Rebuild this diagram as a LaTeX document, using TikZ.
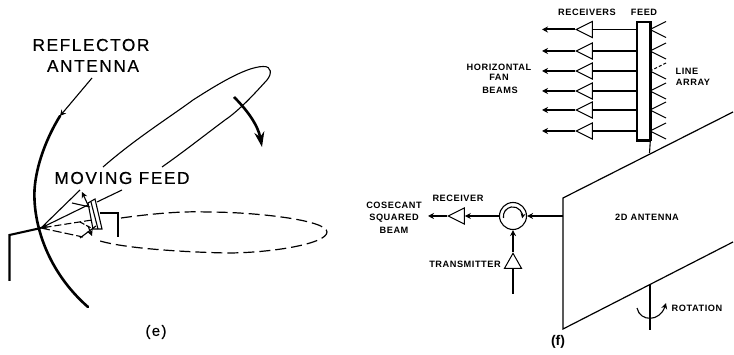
\documentclass[tikz,border=0pt]{standalone}
\usepackage{fontspec}
\setmainfont{Liberation Sans}
\newfontfamily\bigf[LetterSpace=9,FakeBold=0.35]{Liberation Sans}
\newfontfamily\smallf[LetterSpace=6]{Liberation Sans Bold}
\usetikzlibrary{arrows.meta,shapes.geometric}
\tikzset{
  bigtext/.style={font=\bigf\fontsize{17.3}{20}\selectfont,inner sep=0pt},
  smalltext/.style={font=\smallf\fontsize{9.2}{11}\selectfont,inner sep=0pt},
  thin line/.style={line width=1.1pt},
  mid line/.style={line width=1.6pt},
  heavy/.style={line width=2.6pt},
  tip/.style={-{Stealth[length=6pt,width=6pt]}},
  bigtip/.style={-{Stealth[length=15pt,width=10pt]}},
  amp/.style={draw,line width=1pt,isosceles triangle,isosceles triangle stretches=true,
    minimum width=16pt,minimum height=16pt,inner sep=0pt},
}
\begin{document}
\begin{tikzpicture}[x=1pt,y=-1pt,line join=miter]
\useasboundingbox (0,0) rectangle (734,355);
% ---------- (e) reflector
\coordinate (rtop) at (60,116);
\coordinate (rbot) at (88,307);
\coordinate (focus) at (41,228);
\draw[heavy,line cap=round] (rtop) .. controls (47,137) and (36,165) .. (34.5,190)
   .. controls (33,225) and (48,272) .. (rbot);
\node[bigtext] (refl) at (91,45) {REFLECTOR};
\node[bigtext] (ant) at (93,66) {ANTENNA};
\coordinate (antleader) at (92,78);
\draw[thin line,tip] (antleader) -- (rtop);
% upper beam
\coordinate (ub1) at (103,167);
\coordinate (ub2) at (162,167);
\draw[thin line] (ub1) .. controls (135,139) and (170,117) .. (193,100)
  .. controls (215,86) and (245,67) .. (263,66.5)
  .. controls (272,66) and (272,74) .. (267,80)
  .. controls (256,92) and (240,110) .. (225,120)
  .. controls (205,135) and (182,153) .. (ub2);
% scan arrow
\coordinate (sa1) at (234,97);
\coordinate (sa2) at (262,147);
\draw[heavy,bigtip] (sa1) .. controls (247,110) and (258,125) .. (sa2);
\node[bigtext] (mf) at (122,178) {MOVING FEED};
% feed
\coordinate (fa) at (88,203);
\coordinate (fb) at (95,199);
\coordinate (fc) at (102,229);
\coordinate (fd) at (93,229);
\draw[thin line,fill=white] (fa) -- (fb) -- (fc) -- (fd) -- cycle;
\draw[thin line] (91,202) -- (98,229);
\coordinate (fl) at (122,190);
\coordinate (flb) at (97,202);
\draw[thin line] (fl) -- (flb);
% feed pipe
\coordinate (p1) at (100,213);
\coordinate (p2) at (118,213);
\coordinate (p3) at (118,237);
\draw[line width=2.1pt] (p1) -- (p2) -- (p3);
% main pipe
\coordinate (q1) at (9.5,235);
\coordinate (q2) at (9.5,281);
\draw[line width=2.1pt] (focus) -- (q1) -- (q2);
% rays
\coordinate (ray1) at (80,190);
\coordinate (ray2) at (88,205);
\coordinate (ray2t) at (82,192);
\coordinate (ray3) at (72,203);
\coordinate (ray4) at (90,207);
\draw[thin line] (focus) -- (ray1);
\draw[thin line,{Stealth[length=7pt,width=5pt]}-] (focus) -- (ray2);
\draw[thin line,tip] (ray2) -- (ray2t);
\draw[thin line] (ray3) -- (ray4);
\coordinate (d1) at (92,220);
\coordinate (d2) at (83,237);
\coordinate (d3) at (80,238);
\coordinate (d4) at (96,226);
\coordinate (d5) at (80,222);
\coordinate (d6) at (93,229);
\draw[thin line,dash pattern=on 7pt off 3pt,{Stealth[length=6pt,width=4pt]}-] (focus) -- (d1);
\draw[thin line,dash pattern=on 9pt off 3pt] (focus) -- (d2);
\draw[thin line] (d3) -- (d4);
\draw[thin line,dash pattern=on 5pt off 2pt] (d5) -- (d6);
\draw[thin line,tip] (88,226) -- (92,236);
% dashed beam
\draw[line width=1.2pt,dash pattern=on 11pt off 5pt] (121,218) .. controls (150,214) and (180,211) .. (207,212)
  .. controls (255,212) and (327,220) .. (327,232)
  .. controls (327,244) and (270,253) .. (227,253)
  .. controls (180,252) and (120,248) .. (97,240);
\node[font=\bigf\fontsize{15}{17}\selectfont,inner sep=0pt] (elabel) at (156,332) {(e)};
% ---------- (f)
\node[draw,mid line,minimum width=13pt,minimum height=118pt,inner sep=0pt,fill=white] (feed) at (643.5,81) {};
\draw[line width=2.2pt] (feed.north east) -- (feed.south east);
\draw[line width=1.6pt] (feed.south west) -- (feed.south east);
\coordinate (c1) at (563,198);
\coordinate (c2) at (733,112);
\coordinate (c3) at (733,242);
\coordinate (c4) at (563,329);
\draw[line width=1.2pt] (c2) -- (c1) -- (c4) -- (c3);
\coordinate (feedfoot) at (649.5,153);
\draw[thin line] (feed.south east) ++(-0.5pt,0) -- (feedfoot);
\foreach \i/\y in {1/29.5,2/51,3/71,4/91,5/110,6/131}{
  \node[amp,shape border rotate=180,anchor=apex] (a\i) at (575,\y) {};
  \coordinate (out\i) at (542,\y);
  \coordinate (ae\i) at (650,\y);
  \coordinate (aeu\i) at (666,\y-8);
  \coordinate (ael\i) at (666,\y+8);
  \draw[mid line] (a\i.lower side) -- (feed.west |- a\i.lower side);
  \draw[line width=2pt,tip] (a\i.apex) -- (out\i);
  \draw[thin line] (ael\i) -- (ae\i);
}
\foreach \i in {1,2,4,5,6}{\draw[thin line] (aeu\i) -- (ae\i);}
\draw[thin line,densely dashed] (aeu3) -- (ae3);
\node[smalltext] (rs) at (587,12) {RECEIVERS};
\node[smalltext] (fe) at (644,12) {FEED};
\node[smalltext] (hz) at (499,67) {HORIZONTAL};
\node[smalltext] (fan) at (499,77) {FAN};
\node[smalltext] (bm) at (500,90) {BEAMS};
\node[smalltext] (li) at (687,71) {LINE};
\node[smalltext] (ar) at (693,82) {ARRAY};
\node[smalltext] (ant2) at (647,217) {2D ANTENNA};
\node[smalltext] (rot) at (697,308) {ROTATION};
\node[font=\fontsize{14}{16}\selectfont\bfseries,inner sep=0pt] (flabel) at (558,342) {(f)};
% rotation axis
\coordinate (ax1) at (650,285);
\coordinate (ax2) at (650,330);
\draw[line width=1.4pt] (ax1) -- (ax2);
\coordinate (rt1) at (637,308);
\coordinate (rt2) at (666,303);
\draw[thin line,-{Stealth[length=6pt,width=6pt]}] (rt1) .. controls (640,322) and (660,322) .. (rt2);
% circulator
\node[draw,circle,line width=1.1pt,minimum size=27pt,inner sep=0pt] (circ) at (513,216) {};
\draw[thin line,-{Stealth[length=5pt,width=5pt]}] (503.5,218) arc[start angle=190,end angle=-12,radius=9.5pt];
\coordinate (port) at (563,216);
\draw[line width=1.6pt,tip] (port) -- (circ.east);
\node[amp,shape border rotate=180,anchor=apex] (ra) at (447,216) {};
\draw[line width=2pt,tip] (circ.west) -- (ra.lower side);
\coordinate (rout) at (428,216);
\draw[line width=1.6pt,tip] (ra.apex) -- (rout);
\node[amp,shape border rotate=90,anchor=apex,minimum width=17pt,minimum height=15pt] (ta) at (513,252) {};
\draw[line width=2pt,tip] (ta.apex) -- (circ.south);
\coordinate (tin) at (513,294);
\draw[line width=1.6pt] (tin) -- (ta.lower side);
\node[smalltext] (rc) at (458,198) {RECEIVER};
\node[smalltext] (tr) at (465,264) {TRANSMITTER};
\node[smalltext] (cs) at (394,205) {COSECANT};
\node[smalltext] (sq) at (394,218) {SQUARED};
\node[smalltext] (be) at (394,230) {BEAM};
\end{tikzpicture}
\end{document}
